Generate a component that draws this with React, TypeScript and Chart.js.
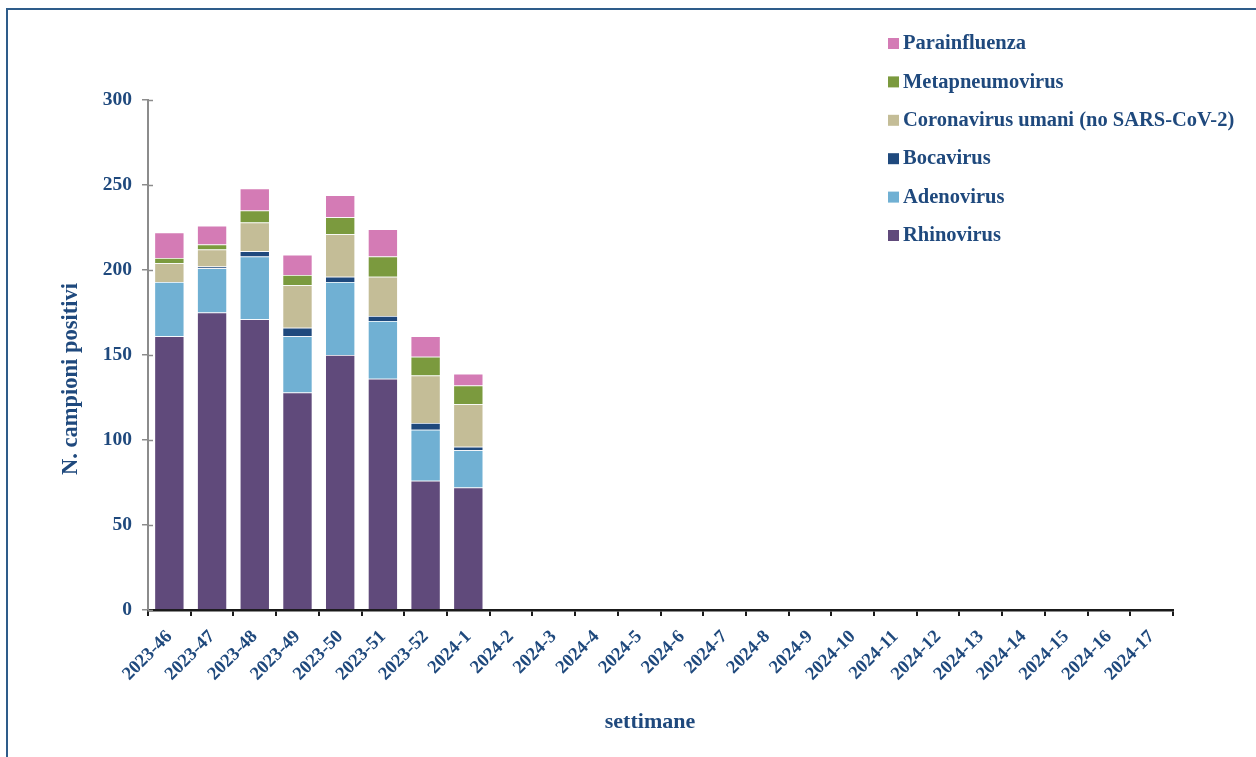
import React, { useEffect, useRef } from "react";
import { Chart, registerables } from "chart.js";

Chart.register(...registerables);

// Weekly positive samples by virus (non-influenza respiratory viruses)
const weeks = [
  "2023-46", "2023-47", "2023-48", "2023-49", "2023-50", "2023-51", "2023-52",
  "2024-1", "2024-2", "2024-3", "2024-4", "2024-5", "2024-6", "2024-7", "2024-8",
  "2024-9", "2024-10", "2024-11", "2024-12", "2024-13", "2024-14", "2024-15",
  "2024-16", "2024-17",
];

const rhinovirus = [161, 175, 171, 128, 150, 136, 76, 72];
const adenovirus = [32, 26, 37, 33, 43, 34, 30, 22];
const bocavirus = [0, 1, 3, 5, 3, 3, 4, 2];
const coronavirus = [11, 10, 17, 25, 25, 23, 28, 25];
const metapneumovirus = [3, 3, 7, 6, 10, 12, 11, 11];
const parainfluenza = [15, 11, 13, 12, 13, 16, 12, 7];

const seriesNames = [
  "Rhinovirus",
  "Adenovirus",
  "Bocavirus",
  "Coronavirus umani (no SARS-CoV-2)",
  "Metapneumovirus",
  "Parainfluenza",
];
const seriesColors = ["#604a7b", "#70b0d3", "#1f497d", "#c4bd97", "#7b9a3e", "#d47bb5"];
const seriesValues = [rhinovirus, adenovirus, bocavirus, coronavirus, metapneumovirus, parainfluenza];

const yMax = 300;
const yStep = 50;

const TEXT = "#1f497d";
const SERIF = "'Liberation Serif', 'Times New Roman', serif";

// Legend in the top-right corner of the plot, listed top series first
const legendPlugin = {
  id: "cornerLegend",
  afterDraw(chart: any) {
    const ctx = chart.ctx;
    const sets = chart.data.datasets.slice().reverse();
    ctx.save();
    ctx.font = `bold 20.5px ${SERIF}`;
    ctx.textBaseline = "middle";
    ctx.textAlign = "left";
    sets.forEach((ds: any, i: number) => {
      const cy = 43 + i * 38.4;
      ctx.fillStyle = ds.backgroundColor;
      ctx.fillRect(888, cy - 5, 11, 11);
      ctx.fillStyle = TEXT;
      ctx.fillText(ds.label, 903, cy + 1);
    });
    ctx.restore();
  },
};

// Axis titles and the short inner halves of the y-axis tick marks
const axisDecor = {
  id: "axisDecor",
  afterDraw(chart: any) {
    const ctx = chart.ctx;
    const area = chart.chartArea;
    const y = chart.scales.y;
    ctx.save();
    ctx.strokeStyle = "#8c8c8c";
    ctx.lineWidth = 1.5;
    y.ticks.forEach((t: any) => {
      const py = Math.round(y.getPixelForValue(t.value)) + 0.5;
      ctx.beginPath();
      ctx.moveTo(area.left, py);
      ctx.lineTo(area.left + 5, py);
      ctx.stroke();
    });
    ctx.fillStyle = TEXT;
    ctx.font = `bold 22px ${SERIF}`;
    ctx.textAlign = "center";
    ctx.textBaseline = "middle";
    ctx.fillText("settimane", 650, 722);
    ctx.font = `bold 22.5px ${SERIF}`;
    ctx.translate(area.left - 77, (area.top + area.bottom) / 2 + 24);
    ctx.rotate(-Math.PI / 2);
    ctx.fillText("N. campioni positivi", 0, 0);
    ctx.restore();
  },
};

export default function App() {
  const canvasRef = useRef<HTMLCanvasElement | null>(null);

  useEffect(() => {
    if (!canvasRef.current) return;
    const chart = new Chart(canvasRef.current, {
      type: "bar",
      data: {
        labels: weeks,
        datasets: seriesNames.map((name, i) => ({
          label: name,
          data: seriesValues[i],
          backgroundColor: seriesColors[i],
          borderColor: "rgba(255,255,255,0.2)",
          borderWidth: 0.75,
          barPercentage: 0.7,
          categoryPercentage: 1,
        })),
      },
      options: {
        responsive: false,
        animation: false,
        layout: { padding: { left: 0, right: 83, top: 100, bottom: 0 } },
        plugins: {
          legend: { display: false },
          tooltip: { enabled: false },
          title: { display: false },
        },
        scales: {
          x: {
            stacked: true,
            offset: true,
            afterFit: (s: any) => {
              s.height = 147;
            },
            grid: {
              offset: true,
              drawOnChartArea: false,
              drawTicks: true,
              tickLength: 6,
              color: "#1a1a1a",
              lineWidth: 2,
            },
            border: { color: "#1a1a1a", width: 2.5 },
            ticks: {
              autoSkip: false,
              maxRotation: 45,
              minRotation: 45,
              padding: 10,
              color: TEXT,
              font: { family: SERIF, size: 18.5, weight: "bold" },
            },
          },
          y: {
            stacked: true,
            min: 0,
            max: yMax,
            afterFit: (s: any) => {
              s.width = 148;
            },
            grid: {
              drawOnChartArea: false,
              drawTicks: true,
              tickLength: 6,
              color: "#8c8c8c",
              lineWidth: 1.5,
            },
            border: { color: "#8c8c8c", width: 2 },
            ticks: {
              stepSize: yStep,
              padding: 10,
              color: TEXT,
              font: { family: SERIF, size: 19.5, weight: "bold" },
            },
          },
        },
      },
      plugins: [legendPlugin, axisDecor],
    });
    return () => chart.destroy();
  }, []);

  return (
    <div style={{ position: "absolute", left: 0, top: 0, width: 1256, height: 757, overflow: "hidden", background: "#fff" }}>
      <div
        style={{
          position: "absolute",
          left: 6,
          top: 8,
          width: 1300,
          height: 800,
          border: "2px solid #2e5c8a",
          boxSizing: "border-box",
        }}
      />
      <canvas ref={canvasRef} width={1256} height={757} style={{ position: "absolute", left: 0, top: 0 }} />
    </div>
  );
}
